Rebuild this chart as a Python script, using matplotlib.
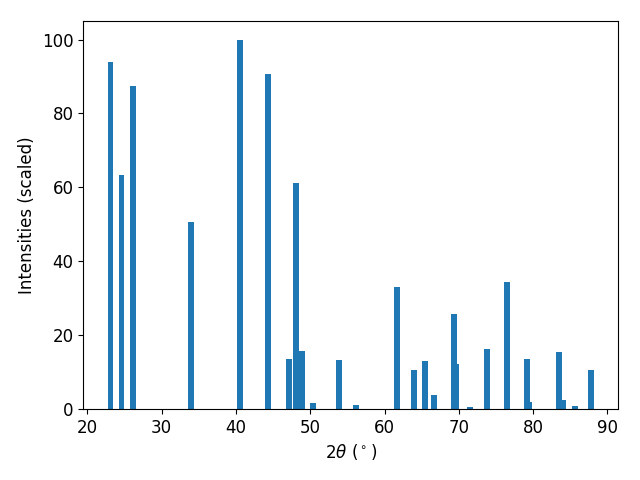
import matplotlib.pyplot as plt

# posições 2theta e intensidades (escaladas)
two_theta = [23.1, 24.58, 26.19, 34.0, 40.6, 44.36, 47.15, 48.03, 48.95, 50.4,
             53.9, 56.2, 61.7, 64.0, 65.5, 66.7, 69.4, 69.66, 71.55, 73.8,
             76.5, 79.2, 79.5, 83.5, 84.06, 85.7, 87.8]
intensities = [93.8, 63.4, 87.3, 50.7, 100.0, 90.8, 13.6, 61.2, 15.8, 1.6,
               13.3, 1.1, 33.1, 10.6, 13.0, 3.8, 25.8, 12.2, 0.5, 16.3,
               34.5, 13.6, 1.9, 15.5, 2.4, 0.8, 10.6]

plt.rcParams['font.size'] = 12

fig, ax = plt.subplots(figsize=(6.4, 4.8), dpi=100)
ax.bar(two_theta, intensities, width=0.8, color='#1f77b4')
ax.set_xlabel(r'$2\theta$ ($^\circ$)')
ax.set_ylabel('Intensities (scaled)')
fig.subplots_adjust(left=0.13, right=0.966, top=0.956, bottom=0.148)
fig.savefig('out.png')
